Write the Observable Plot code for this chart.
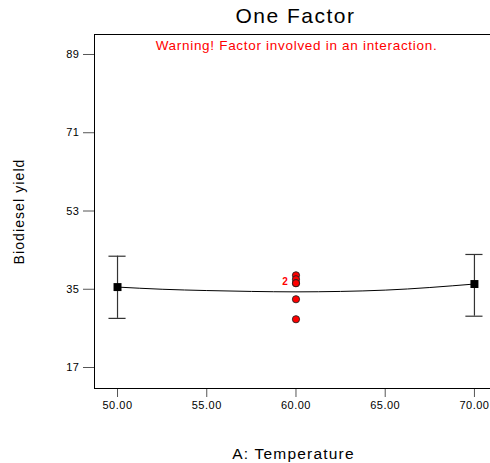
<!DOCTYPE html>
<html><head><meta charset="utf-8">
<script src="https://cdn.jsdelivr.net/npm/d3@7"></script>
<script src="https://cdn.jsdelivr.net/npm/@observablehq/plot@0.6"></script>
<style>body{margin:0;background:#fff}svg{font-family:"Liberation Sans",Arial,sans-serif}</style>
</head><body><div id="chart"></div>
<script>
const xTicks = [50, 55, 60, 65, 70];
const yTicks = [17, 35, 53, 71, 89];
// Factor levels with predicted means and LSD bars
const levels = [50, 70];
const means = [35.5, 36.2];
const barLow = [28.3, 28.8];
const barHigh = [42.6, 43.0];
// Observed design points at center
const obsX = [60, 60, 60, 60, 60, 60];
const obsY = [38.2, 37.3, 36.4, 36.4, 32.7, 28.1];
// Fitted curve
const curveX = [50, 52.5, 55, 57.5, 60, 62.5, 65, 67.5, 70];
const curveY = [35.5, 35.0, 34.7, 34.5, 34.4, 34.5, 34.8, 35.4, 36.2];

const bars = levels.map((x, i) => ({x, m: means[i], lo: barLow[i], hi: barHigh[i]}));
const obs = obsX.map((x, i) => ({x, y: obsY[i]}));
const curve = curveX.map((x, i) => ({x, y: curveY[i]}));
const xDom = [48.71, 70.9], yDom = [12.17, 93.6];

const plot = Plot.plot({
  width: 490, height: 463,
  marginLeft: 94, marginRight: 0, marginTop: 34, marginBottom: 75,
  style: {fontFamily: "Liberation Sans, Arial, sans-serif", fontSize: "11px", color: "#000", background: "#fff"},
  x: {domain: xDom, label: null},
  y: {domain: yDom, label: null},
  marks: [
    Plot.axisX({ticks: xTicks, tickFormat: d => d.toFixed(2), tickSize: 9, tickPadding: 4, stroke: "#555", label: null, fontSize: 11}),
    Plot.axisY({ticks: yTicks, tickSize: 11, tickPadding: 4, stroke: "#555", label: null, fontSize: 11}),
    Plot.ruleX([xDom[0]], {stroke: "#000"}),
    Plot.ruleY([yDom[0], yDom[1]], {stroke: "#000"}),
    Plot.line(curve, {x: "x", y: "y", curve: "natural", stroke: "#000", strokeWidth: 1}),
    Plot.ruleX(bars, {x: "x", y1: "lo", y2: "hi", stroke: "#333", strokeWidth: 1.2}),
    Plot.ruleY(bars, {x1: d => d.x - 0.48, x2: d => d.x + 0.48, y: "lo", stroke: "#333", strokeWidth: 1.2}),
    Plot.ruleY(bars, {x1: d => d.x - 0.48, x2: d => d.x + 0.48, y: "hi", stroke: "#333", strokeWidth: 1.2}),
    Plot.dot(bars, {x: "x", y: "m", symbol: "square", r: 4.5, fill: "#000", stroke: "none"}),
    Plot.dot(obs, {x: "x", y: "y", r: 3.6, fill: "#ff0000", stroke: "#222", strokeWidth: 0.9}),
    Plot.text([{x: 60, y: 36.4, t: "2"}], {x: "x", y: "y", text: "t", dx: -11, dy: -1, fill: "#ff0000", fontSize: 10, fontWeight: "bold", textDecoration: "underline"}),
    Plot.text(["One Factor"], {frameAnchor: "top", dx: 3, dy: -26, fontSize: 21, fill: "#000", className: "ls-title"}),
    Plot.text(["Warning! Factor involved in an interaction."], {frameAnchor: "top", dx: 4, dy: 6, fontSize: 13.5, fill: "#ff0000", className: "ls-warn"}),
    Plot.text(["A: Temperature"], {frameAnchor: "bottom", dx: 1, dy: 70, fontSize: 15.5, fill: "#000", className: "ls-xlab"}),
    Plot.text(["Biodiesel yield"], {frameAnchor: "left", textAnchor: "middle", dx: -75, dy: 0, rotate: -90, fontSize: 14, fill: "#000", className: "ls-ylab"})
  ]
});
const s = d3.select(plot);
s.selectAll(".ls-title text").style("letter-spacing", "1.5px");
s.selectAll(".ls-warn text").style("letter-spacing", "0.7px");
s.selectAll(".ls-xlab text").style("letter-spacing", "1.2px");
s.selectAll(".ls-ylab text").style("letter-spacing", "1.1px");
s.selectAll("[aria-label^='x-axis tick label'] text, [aria-label^='y-axis tick label'] text").style("letter-spacing", "0.5px");
document.getElementById("chart").appendChild(plot);
</script></body></html>
